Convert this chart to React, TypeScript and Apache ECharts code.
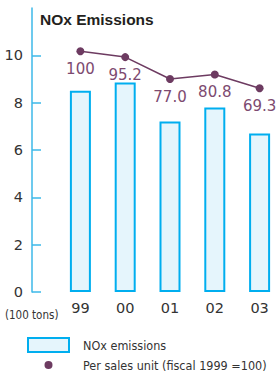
import React, { useEffect, useRef } from 'react';
import * as echarts from 'echarts';

const years = ['99', '00', '01', '02', '03'];
const noxEmissions = [8.5, 8.85, 7.2, 7.8, 6.7];
const perSalesUnit = [100, 95.2, 77.0, 80.8, 69.3];
const yTicks = [0, 2, 4, 6, 8, 10];
const barName = 'NOx emissions';
const lineName = 'Per sales unit (fiscal 1999 =100)';
const unitLabel = '(100 tons)';
const titleText = 'NOx Emissions';

const axisFont = "'DejaVu Sans', sans-serif";
const narrowFont = "'DejaVu Sans Condensed', 'Liberation Sans Narrow', sans-serif";
const cyan = '#00aeef';
const axisBlue = '#3db8e8';
const purple = '#6d3b61';
// small dot centred in a 41x14 legend box (the two leading moves fix the box)
const dotIcon = 'path://M0 0M41 14M24.5 7A4 4 0 1 0 16.5 7A4 4 0 1 0 24.5 7Z';

export default function App() {
  const ref = useRef<HTMLDivElement>(null);
  useEffect(() => {
    const chart = echarts.init(ref.current!, null, { renderer: 'svg' });
    chart.setOption({
      animation: false,
      backgroundColor: '#ffffff',
      title: {
        text: titleText,
        left: 40,
        top: 11,
        padding: 0,
        textStyle: { fontFamily: "'Liberation Sans', Arial, sans-serif", fontWeight: 'bold', fontSize: 15.5, color: '#231f20' },
      },
      grid: { left: 58, right: -3, top: 8, bottom: 87, containLabel: false, outerBoundsMode: 'none' },
      xAxis: {
        type: 'category',
        data: years,
        axisLine: { show: false },
        axisTick: { show: false },
        axisLabel: { margin: 8, fontFamily: axisFont, fontSize: 14.5, color: '#333333' },
      },
      yAxis: [
        {
          type: 'value',
          min: 0,
          max: 12,
          offset: 26,
          splitLine: { show: false },
          axisLine: { show: true, lineStyle: { color: axisBlue, width: 1.5 } },
          axisTick: { show: true, inside: true, length: 9, customValues: yTicks, lineStyle: { color: axisBlue, width: 1.5 } },
          axisLabel: { customValues: yTicks, margin: 9, fontFamily: axisFont, fontSize: 14.5, color: '#333333' },
        },
        { type: 'value', min: -100, max: 136, show: false },
      ],
      legend: {
        data: [
          { name: barName, icon: 'rect', itemStyle: { color: '#e5f5fc', borderColor: cyan, borderWidth: 2 } },
          { name: lineName, icon: dotIcon, itemStyle: { color: purple, borderWidth: 0 } },
        ],
        orient: 'vertical',
        left: 27,
        top: 337,
        padding: 0,
        itemGap: 5,
        itemWidth: 41,
        itemHeight: 14,
        selectedMode: false,
        textStyle: { fontFamily: narrowFont, fontSize: 12.5, color: '#333333', padding: [0, 0, 0, 9] },
      },
      graphic: [
        {
          type: 'text',
          left: 5,
          top: 308.5,
          style: { text: unitLabel, font: `11.5px ${narrowFont}`, fill: '#333333' },
        },
      ],
      series: [
        {
          type: 'bar',
          name: barName,
          data: noxEmissions,
          barWidth: 21,
          itemStyle: { color: '#e5f5fc', borderColor: cyan, borderWidth: 2 },
        },
        {
          type: 'line',
          name: lineName,
          yAxisIndex: 1,
          data: perSalesUnit,
          symbol: 'circle',
          symbolSize: 8,
          itemStyle: { color: purple },
          lineStyle: { color: purple, width: 1.5 },
          label: {
            show: true,
            position: 'bottom',
            distance: 6,
            fontFamily: axisFont,
            fontSize: 15,
            color: '#7d4a70',
            formatter: (p: any) => (p.value >= 100 ? String(p.value) : Number(p.value).toFixed(1)),
          },
        },
      ],
    });
    return () => chart.dispose();
  }, []);
  return <div ref={ref} style={{ position: 'fixed', left: 0, top: 0, width: 279, height: 379 }} />;
}
